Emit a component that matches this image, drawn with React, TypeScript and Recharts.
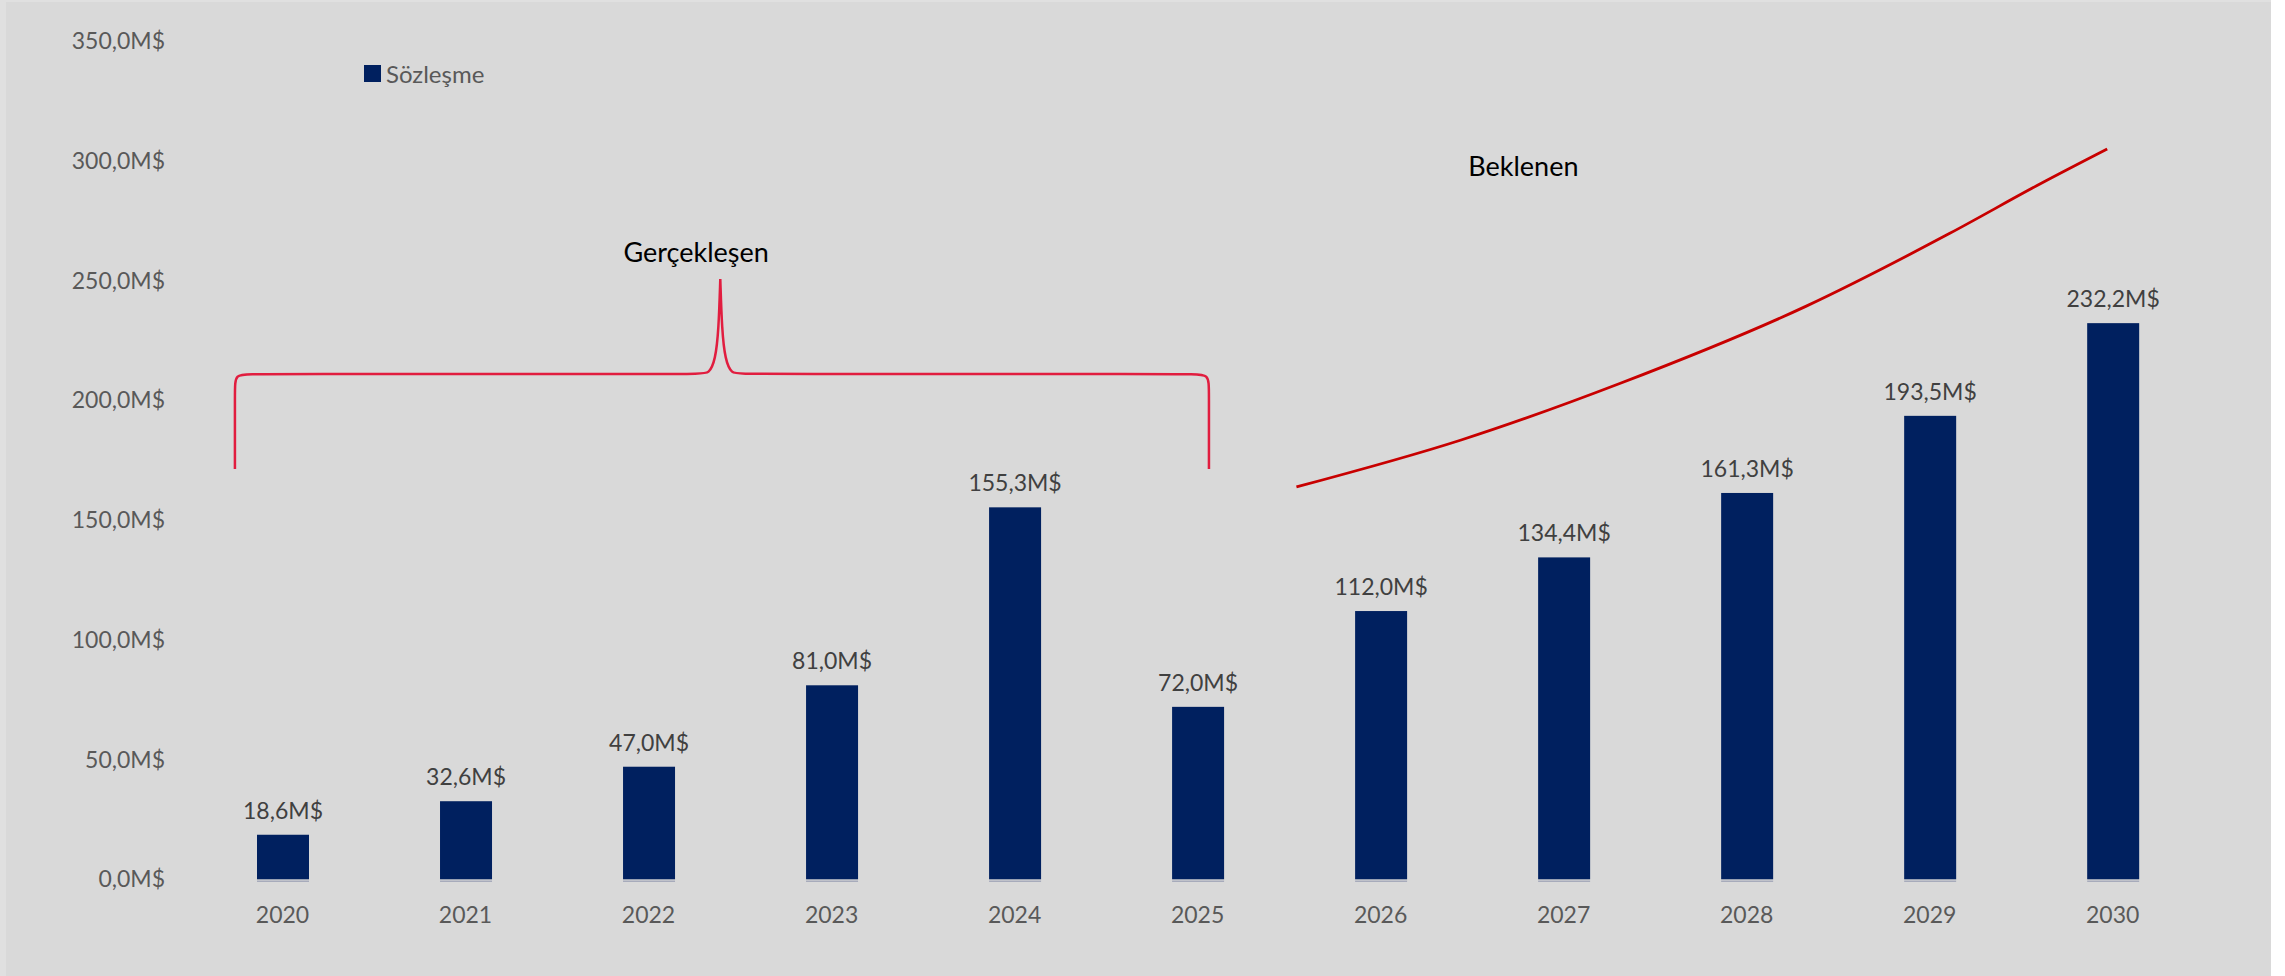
import { Bar, ComposedChart, LabelList, Legend, Line, ReferenceDot, XAxis, YAxis } from 'recharts'

const years = ['2020', '2021', '2022', '2023', '2024', '2025', '2026', '2027', '2028', '2029', '2030']
const contracts = [18.6, 32.6, 47.0, 81.0, 155.3, 72.0, 112.0, 134.4, 161.3, 193.5, 232.2]
const yTicks = [0, 50, 100, 150, 200, 250, 300, 350]

// "Gerçekleşen" brace in (year, value) units
const braceX = [2019.74, 2019.74, 2019.74, 2019.83, 2022.28, 2022.33, 2022.365, 2022.383, 2022.392, 2022.392, 2022.392, 2022.401, 2022.419, 2022.454, 2022.504, 2024.969, 2025.062, 2025.062, 2025.062]
const braceY = [171.3, 204.3, 211.0, 211.0, 211.0, 211.0, 216.8, 229.3, 250.6, 250.6, 250.6, 229.3, 216.8, 211.0, 211.0, 211.0, 211.0, 204.3, 171.3]

// "Beklenen" trend curve
const trendX = [2025.54, 2026.44, 2027.31, 2028.32, 2029.11, 2029.61, 2029.97]
const trendY = [163.8, 183.4, 207.1, 239.1, 269.7, 290.6, 304.9]

const NAVY = '#00205f'
const FONT = 'Lato'

const barData = years.map((year, i) => ({ year, value: contracts[i] }))
const braceData = braceX.map((x, i) => ({ x, y: braceY[i] }))
const trendData = trendX.map((x, i) => ({ x, y: trendY[i] }))

const fmt = (v: number) => `${Number(v).toFixed(1).replace('.', ',')}M$`

function BarWithBase(props: any) {
  const { x, y, width, height, fill } = props
  return (
    <g>
      <rect x={x} y={y} width={width} height={height} fill={fill} />
      <line x1={x} x2={x + width} y1={y + height + 2} y2={y + height + 2} stroke="#a7abbb" strokeWidth={1.5} />
    </g>
  )
}

function LegendBox() {
  return (
    <div style={{ display: 'flex', alignItems: 'center', fontFamily: FONT, fontSize: 24, color: '#595959' }}>
      <span style={{ display: 'inline-block', width: 17, height: 17, background: NAVY, marginRight: 5 }} />
      <span>Sözleşme</span>
    </div>
  )
}

export default function App() {
  return (
    <div style={{ position: 'absolute', left: 0, top: 0, width: 2285, height: 976, background: '#ffffff' }}>
      <div style={{ position: 'absolute', left: 0, top: 0, width: 2271, height: 976, background: '#e0e0e0' }} />
      <div style={{ position: 'absolute', left: 6, top: 2, width: 2265, height: 974, background: '#d9d9d9' }}>
        <ComposedChart
          width={2265}
          height={974}
          data={barData}
          margin={{ top: 39, right: 66.8, bottom: 36.7, left: 18 }}
          style={{ fontFamily: FONT }}
        >
          <XAxis
            xAxisId="c"
            dataKey="year"
            height={60}
            axisLine={false}
            tickLine={false}
            tickSize={0}
            tickMargin={27}
            tick={{ fill: '#595959', fontSize: 23, fontFamily: FONT }}
          />
          <XAxis xAxisId="n" dataKey="x" type="number" domain={[2019.5, 2030.5]} allowDataOverflow hide />
          <YAxis
            width={167}
            domain={[0, 350]}
            ticks={yTicks}
            axisLine={false}
            tickLine={false}
            tickSize={0}
            tickMargin={26}
            tickFormatter={fmt}
            tick={{ fill: '#595959', fontSize: 23, fontFamily: FONT }}
          />
          <Legend
            layout="horizontal"
            verticalAlign="middle"
            align="center"
            wrapperStyle={{ left: 358, top: 57, width: 'auto', height: 'auto' }}
            content={() => <LegendBox />}
          />
          <Bar xAxisId="c" dataKey="value" name="Sözleşme" fill={NAVY} barSize={52} shape={BarWithBase} isAnimationActive={false}>
            <LabelList dataKey="value" position="top" offset={16} formatter={fmt} fill="#404040" fontSize={23} fontFamily={FONT} />
          </Bar>
          <Line
            xAxisId="n"
            data={braceData}
            dataKey="y"
            type="basis"
            stroke="#e11d3f"
            strokeWidth={2.5}
            dot={false}
            activeDot={false}
            legendType="none"
            isAnimationActive={false}
          />
          <Line
            xAxisId="n"
            data={trendData}
            dataKey="y"
            type="monotone"
            stroke="#c80000"
            strokeWidth={2.8}
            dot={false}
            activeDot={false}
            legendType="none"
            isAnimationActive={false}
          />
          <ReferenceDot
            xAxisId="n"
            x={2022.26}
            y={261.9}
            r={0}
            fill="none"
            stroke="none"
            label={{ value: 'Gerçekleşen', position: 'center', fill: '#000000', fontSize: 27, fontFamily: FONT }}
          />
          <ReferenceDot
            xAxisId="n"
            x={2026.78}
            y={297.6}
            r={0}
            fill="none"
            stroke="none"
            label={{ value: 'Beklenen', position: 'center', fill: '#000000', fontSize: 27, fontFamily: FONT }}
          />
        </ComposedChart>
      </div>
    </div>
  )
}
